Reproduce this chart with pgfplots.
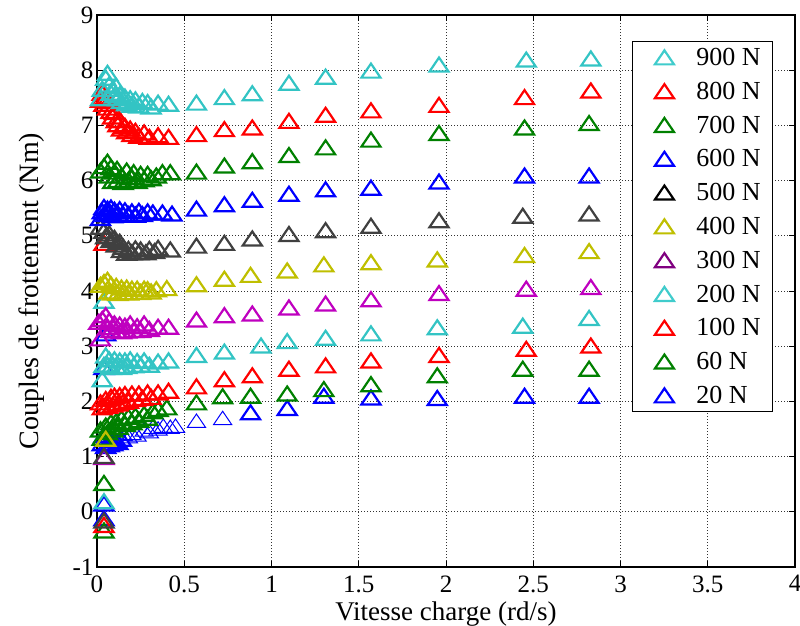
\documentclass[border=0pt]{standalone}
\usepackage{fontspec}
\setmainfont{Liberation Serif}
\usepackage{pgfplots}
\pgfplotsset{compat=1.18}
\definecolor{cC}{rgb}{0.2,0.77,0.77}
\definecolor{cCL}{rgb}{0.25,0.8,0.8}
\definecolor{cR}{rgb}{1,0,0}
\definecolor{cG}{rgb}{0,0.5,0}
\definecolor{cB}{rgb}{0,0,1}
\definecolor{cK}{rgb}{0.25,0.25,0.25}
\definecolor{cY}{rgb}{0.75,0.75,0}
\definecolor{cM}{rgb}{0.75,0,0.75}
\definecolor{cP}{rgb}{0.5,0,0.5}
\pgfplotsset{
  tri/.style={only marks, mark=triangle, mark size=11pt,
    mark options={yscale=0.85, line width=2.2pt, solid, draw=#1, fill=none}},
  trithin/.style={only marks, mark=triangle, mark size=10.5pt,
    mark options={yscale=0.85, line width=1pt, solid, draw=#1, fill=none}},
}
\begin{document}
\begin{tikzpicture}
\begin{axis}[name=ax, scale only axis, width=698pt, height=552pt,
  xmin=0, xmax=4, ymin=-1, ymax=9,
  xtick={0,0.5,1,1.5,2,2.5,3,3.5,4}, ytick={-1,0,1,2,3,4,5,6,7,8,9},
  grid=major, grid style={black!80, line width=0.9pt, dash pattern=on 1pt off 2pt},
  axis line style={line width=2pt}, tick style={black, line width=0.8pt},
  tick align=inside, major tick length=6pt,
  ticklabel style={font=\fontsize{25}{30}\selectfont},
  xticklabel style={yshift=-5pt},
  /pgf/number format/assume math mode=true,
  xlabel={Vitesse charge (rd/s)}, ylabel={Couples de frottement (Nm)},
  xlabel style={font=\fontsize{27}{32}\selectfont, yshift=-2pt},
  ylabel style={font=\fontsize{28}{33}\selectfont, yshift=21pt},
  legend style={at={(0.766,0.953)}, anchor=north west, draw=black, line width=1.5pt,
    fill=white, inner xsep=12pt, inner ysep=3pt, row sep=7.8pt,
    font=\fontsize{26}{31}\selectfont,
    nodes={inner sep=0pt, draw=none}},
  legend cell align=left,
  legend image code/.code={\path[draw=none] (-20pt,-13pt) rectangle (32pt,13pt); \draw[#1] plot coordinates {(0pt,-2pt)};},
]
% 20 N thick
\addplot[tri=cB, forget plot] coordinates {
(0.03,1.20) (0.04,1.35) (0.05,1.15) (0.06,1.30) (0.07,1.18) (0.08,1.28) (0.09,1.20) (0.10,1.25) (0.12,1.22) (0.14,1.28)
(0.88,1.76) (1.09,1.84) (1.30,2.06) (1.57,2.03) (1.95,2.02) (2.45,2.06) (2.82,2.06)
(0.04,0.11) (0.04,-0.16) (0.05,3.19) (0.04,2.58)};
% 20 N thin
\addplot[trithin=cB, forget plot] coordinates {
(0.15,1.37) (0.18,1.33) (0.20,1.39) (0.23,1.36) (0.27,1.45) (0.30,1.42) (0.32,1.50) (0.35,1.47) (0.38,1.52) (0.42,1.50) (0.45,1.52) (0.57,1.61) (0.72,1.66)};
% 60 N
\addplot[tri=cG, forget plot] coordinates {
(0.02,1.45) (0.03,1.30) (0.05,1.52) (0.06,1.40) (0.08,1.58) (0.09,1.45) (0.11,1.60) (0.12,1.50) (0.14,1.65) (0.16,1.55) (0.18,1.68) (0.20,1.58) (0.22,1.70) (0.24,1.62) (0.27,1.73) (0.29,1.66) (0.32,1.78) (0.35,1.82) (0.40,1.85)
(0.57,1.94) (0.72,2.05) (0.88,2.06) (1.09,2.10) (1.30,2.18) (1.57,2.27) (1.95,2.43) (2.44,2.55) (2.82,2.55)
(0.04,0.48) (0.04,-0.38)};
% 100 N
\addplot[tri=cR, forget plot] coordinates {
(0.02,1.94) (0.03,1.85) (0.05,2.00) (0.06,1.88) (0.08,2.04) (0.09,1.90) (0.10,2.06) (0.12,1.92) (0.13,2.07) (0.15,1.95) (0.16,2.09) (0.18,1.97) (0.20,2.10) (0.22,2.00) (0.24,2.10) (0.26,2.02) (0.29,2.12) (0.31,2.04) (0.35,2.12) (0.41,2.15)
(0.57,2.23) (0.73,2.36) (0.89,2.43) (1.10,2.55) (1.31,2.61) (1.57,2.70) (1.96,2.80) (2.46,2.91) (2.83,2.97)
(0.04,4.83) (0.04,-0.28)};
% 200 N
\addplot[tri=cC, forget plot] coordinates {
(0.03,2.36) (0.04,2.62) (0.05,2.79) (0.06,2.62) (0.07,2.72) (0.08,2.58) (0.10,2.72) (0.11,2.60) (0.13,2.70) (0.14,2.58) (0.16,2.70) (0.17,2.60) (0.19,2.72) (0.21,2.61) (0.23,2.69) (0.25,2.62) (0.27,2.70) (0.30,2.62) (0.35,2.68) (0.41,2.70)
(0.57,2.80) (0.73,2.86) (0.94,2.97) (1.09,3.05) (1.31,3.11) (1.57,3.19) (1.95,3.30) (2.44,3.33) (2.82,3.47)
(0.04,3.78) (0.04,0.15)};
% 300 N
\addplot[tri=cM, forget plot] coordinates {
(0.01,3.40) (0.02,3.10) (0.03,3.45) (0.05,3.52) (0.06,3.30) (0.07,3.42) (0.08,3.25) (0.10,3.37) (0.11,3.24) (0.13,3.35) (0.14,3.23) (0.16,3.33) (0.17,3.24) (0.19,3.37) (0.21,3.25) (0.23,3.32) (0.25,3.25) (0.27,3.37) (0.30,3.27) (0.35,3.31) (0.41,3.31)
(0.57,3.44) (0.73,3.52) (0.89,3.55) (1.10,3.66) (1.31,3.73) (1.57,3.81) (1.96,3.92) (2.46,4.00) (2.83,4.03)
(0.04,0.95)};
% 400 N
\addplot[tri=cY, forget plot] coordinates {
(0.02,4.07) (0.04,4.12) (0.06,4.16) (0.07,3.95) (0.08,4.08) (0.09,3.93) (0.11,4.05) (0.12,3.92) (0.14,4.02) (0.15,3.94) (0.17,4.02) (0.18,3.93) (0.20,4.00) (0.23,4.00) (0.25,3.94) (0.27,4.00) (0.29,3.99) (0.31,3.95) (0.34,3.99) (0.40,4.01)
(0.57,4.08) (0.73,4.18) (0.88,4.25) (1.09,4.33) (1.30,4.44) (1.57,4.48) (1.95,4.53) (2.45,4.61) (2.82,4.68)
(0.05,1.28)};
% 500 N
\addplot[tri=cK, forget plot] coordinates {
(0.02,5.12) (0.04,5.05) (0.05,4.95) (0.07,5.00) (0.08,4.88) (0.10,4.92) (0.11,4.80) (0.13,4.85) (0.14,4.70) (0.15,4.76) (0.17,4.65) (0.18,4.72) (0.20,4.66) (0.22,4.73) (0.24,4.66) (0.25,4.71) (0.28,4.66) (0.30,4.72) (0.33,4.68) (0.35,4.74) (0.42,4.71)
(0.57,4.78) (0.73,4.83) (0.89,4.91) (1.10,4.99) (1.31,5.06) (1.57,5.14) (1.96,5.24) (2.44,5.32) (2.82,5.36)
(0.04,0.97) (0.04,-0.20)};
% 600 N
\addplot[tri=cB, forget plot] coordinates {
(0.02,5.28) (0.03,5.40) (0.04,5.48) (0.05,5.35) (0.06,5.45) (0.07,5.38) (0.08,5.47) (0.09,5.33) (0.10,5.43) (0.12,5.36) (0.13,5.44) (0.15,5.34) (0.16,5.42) (0.18,5.35) (0.20,5.40) (0.22,5.34) (0.24,5.41) (0.26,5.35) (0.29,5.40) (0.32,5.38) (0.375,5.38) (0.43,5.36)
(0.57,5.45) (0.73,5.53) (0.89,5.61) (1.10,5.72) (1.31,5.80) (1.57,5.83) (1.96,5.94) (2.45,6.05) (2.82,6.05)};
% 700 N
\addplot[tri=cG, forget plot] coordinates {
(0.02,6.14) (0.04,6.22) (0.06,6.30) (0.07,6.05) (0.08,6.20) (0.09,5.95) (0.10,6.12) (0.115,6.17) (0.12,5.97) (0.14,6.05) (0.15,5.93) (0.17,6.14) (0.18,5.97) (0.20,6.02) (0.21,6.11) (0.23,5.95) (0.25,6.08) (0.27,5.98) (0.29,6.08) (0.31,6.00) (0.34,6.05) (0.375,6.11) (0.42,6.11)
(0.57,6.12) (0.73,6.23) (0.89,6.31) (1.10,6.42) (1.31,6.56) (1.57,6.70) (1.96,6.82) (2.45,6.92) (2.82,7.00)};
% 800 N
\addplot[tri=cR, forget plot] coordinates {
(0.02,7.42) (0.03,7.55) (0.04,7.35) (0.05,7.48) (0.06,7.28) (0.07,7.40) (0.08,7.22) (0.09,7.12) (0.10,7.20) (0.11,7.05) (0.12,6.98) (0.13,7.06) (0.14,6.90) (0.16,6.95) (0.17,6.85) (0.19,6.90) (0.20,6.80) (0.22,6.86) (0.24,6.77) (0.27,6.83) (0.30,6.75) (0.35,6.78) (0.41,6.75)
(0.57,6.80) (0.73,6.89) (0.89,6.92) (1.10,7.04) (1.31,7.15) (1.57,7.23) (1.96,7.33) (2.45,7.47) (2.83,7.59)};
% 900 N
\addplot[tri=cC, forget plot] coordinates {
(0.02,7.45) (0.03,7.62) (0.05,7.82) (0.06,7.91) (0.07,7.70) (0.08,7.55) (0.09,7.62) (0.10,7.50) (0.11,7.67) (0.12,7.45) (0.13,7.52) (0.14,7.40) (0.16,7.48) (0.17,7.36) (0.19,7.45) (0.20,7.33) (0.22,7.43) (0.24,7.32) (0.26,7.40) (0.29,7.38) (0.31,7.30) (0.35,7.37) (0.41,7.35)
(0.57,7.37) (0.73,7.47) (0.89,7.54) (1.10,7.73) (1.31,7.84) (1.57,7.95) (1.96,8.06) (2.46,8.15) (2.83,8.17)};
\addlegendimage{tri=cCL}\addlegendentry{900 N}
\addlegendimage{tri=cR}\addlegendentry{800 N}
\addlegendimage{tri=cG}\addlegendentry{700 N}
\addlegendimage{tri=cB}\addlegendentry{600 N}
\addlegendimage{tri=black}\addlegendentry{500 N}
\addlegendimage{tri=cY}\addlegendentry{400 N}
\addlegendimage{tri=cP}\addlegendentry{300 N}
\addlegendimage{tri=cCL}\addlegendentry{200 N}
\addlegendimage{tri=cR}\addlegendentry{100 N}
\addlegendimage{tri=cG}\addlegendentry{60 N}
\addlegendimage{tri=cB}\addlegendentry{20 N}
\end{axis}
\pgfresetboundingbox
\path ([xshift=-97pt,yshift=-59pt]ax.south west) rectangle ([xshift=5pt,yshift=15pt]ax.north east);
\end{tikzpicture}
\end{document}
